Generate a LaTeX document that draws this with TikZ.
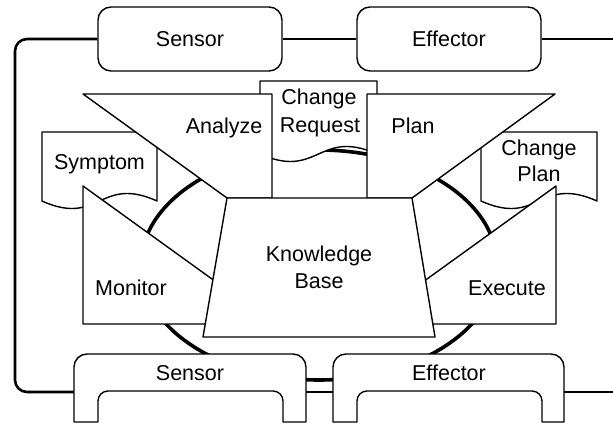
\documentclass[tikz,border=0pt]{standalone}
\usepackage{fontspec}
\setmainfont{Liberation Sans}
\begin{document}
\begin{tikzpicture}[x=1pt,y=-1pt,
    block/.style={draw,fill=white,line width=1.4pt,line join=round},
    iobox/.style={block,rounded corners=13pt,minimum width=184pt,minimum height=64pt,font=\fontsize{21.5}{26}\selectfont},
    txt/.style={anchor=base,inner sep=0pt,font=\fontsize{21.5}{26}\selectfont},
    loopline/.style={line width=2.6pt},
    ring/.style={line width=3.6pt}]

    \useasboundingbox (0,0) rectangle (613,425);

    \node (sensortop)   at (190,39) [iobox] {Sensor};
    \node (effectortop) at (449,39) [iobox] {Effector};

    \coordinate (topend)        at (613,39);
    \coordinate (topleft)       at (15,39);
    \coordinate (bottomleft)    at (15,392);
    \coordinate (sensorleft)    at (74,392);
    \coordinate (sensorright)   at (306,392);
    \coordinate (effectorleft)  at (333,392);
    \coordinate (effectorright) at (564,392);
    \coordinate (bottomend)     at (613,392);
    \coordinate (kbcenter)      at (319,265);

    \draw[loopline] (topend) to (effectortop);
    \draw[loopline] (effectortop) to (sensortop);
    \draw[loopline,rounded corners=12pt] (sensortop) -- (topleft) -- (bottomleft) -- (sensorleft);
    \draw[loopline] (sensorright) to (effectorleft);
    \draw[loopline] (effectorright) to (bottomend);

    \draw[ring] (kbcenter) ellipse [x radius=178pt,y radius=115pt];

    \draw[block] (42,132) -- (157,132) -- (157,201) .. controls +(-57.5,-26) and +(57.5,26) .. (42,201) -- cycle;
    \draw[block] (481,132) -- (597,132) -- (597,201) .. controls +(-58,-26) and +(58,26) .. (481,201) -- cycle;
    \draw[block] (260,81) -- (377,81) -- (377,154) .. controls +(-58.5,-26) and +(58.5,26) .. (260,154) -- cycle;

    \draw[block] (83,94) -- (272,94) -- (272,198) -- (227,198) -- cycle;
    \draw[block] (555,94) -- (367,94) -- (367,198) -- (412,198) -- cycle;
    \draw[block] (83,186) -- (230,292) -- (230,324) -- (83,324) -- cycle;
    \draw[block] (556,186) -- (409,292) -- (409,324) -- (556,324) -- cycle;

    \draw[block] (227,198) -- (412,198) -- (435,337) -- (203,337) -- cycle;

    \draw[block] (74,422) [rounded corners=13pt] -- (74,354) -- (306,354) [sharp corners] -- (306,422) -- (283,422) [rounded corners=10pt] -- (283,391) -- (98,391) [sharp corners] -- (98,422) -- cycle;
    \draw[block] (333,422) [rounded corners=13pt] -- (333,354) -- (564,354) [sharp corners] -- (564,422) -- (542,422) [rounded corners=10pt] -- (542,391) -- (357,391) [sharp corners] -- (357,422) -- cycle;

    \node (analyzetext)   at (224,134) [txt] {Analyze};
    \node (changetext)    at (319,105) [txt] {Change};
    \node (requesttext)   at (320,132) [txt] {Request};
    \node (plantext)      at (413,134) [txt] {Plan};
    \node (symptomtext)   at (99.5,169) [txt] {Symptom};
    \node (cplanchange)   at (539,155) [txt] {Change};
    \node (cplanplan)     at (539,182) [txt] {Plan};
    \node (monitortext)   at (131,295) [txt] {Monitor};
    \node (executetext)   at (507,295) [txt] {Execute};
    \node (knowledgetext) at (319,261) [txt] {Knowledge};
    \node (basetext)      at (319,288) [txt] {Base};
    \node (sensorbottom)  at (190,380) [txt] {Sensor};
    \node (effectorbottom) at (449,380) [txt] {Effector};

\end{tikzpicture}
\end{document}
